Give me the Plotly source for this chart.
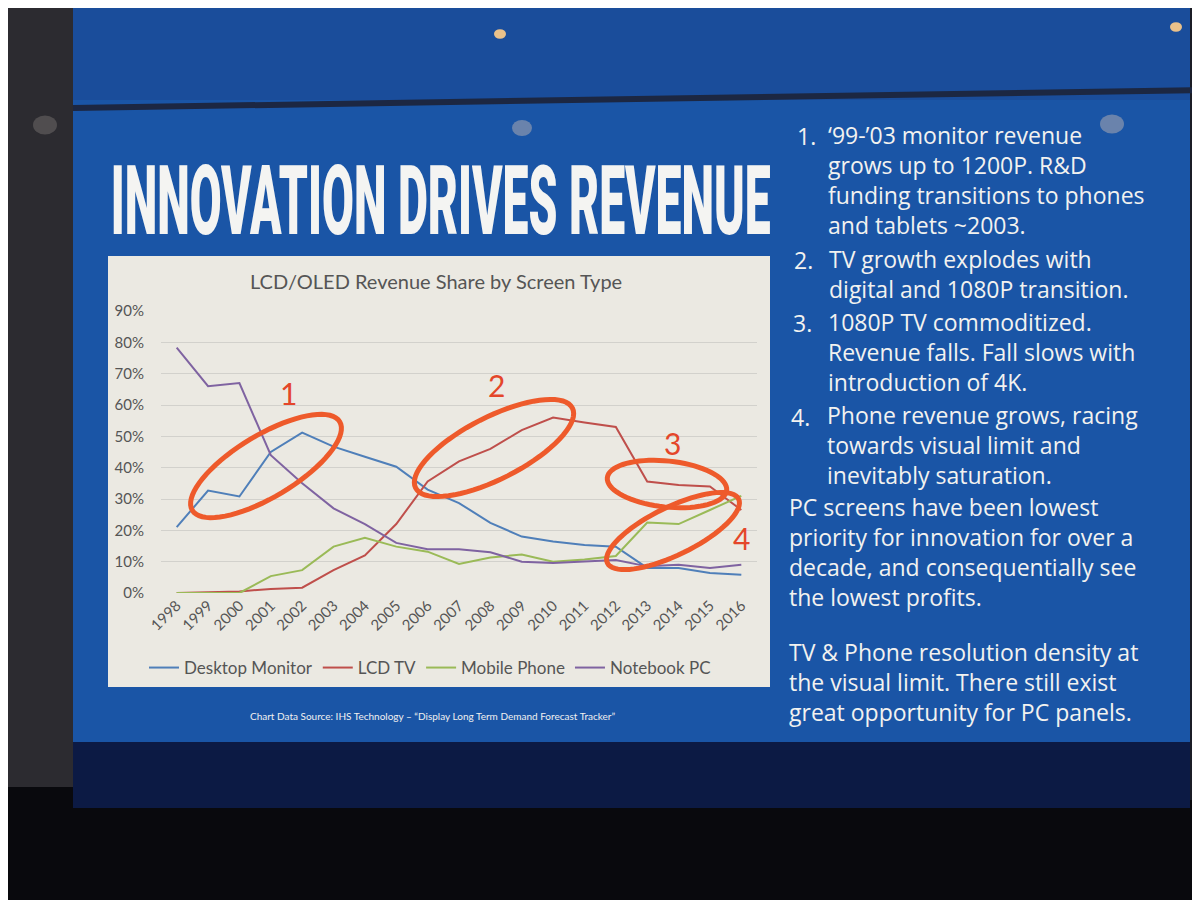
import math
import plotly.graph_objects as go

# --- data (share of LCD/OLED revenue, fraction) ---
years = [str(y) for y in range(1998, 2017)]
desktop_monitor = [0.21, 0.327, 0.308, 0.45, 0.512, 0.467, 0.435, 0.403, 0.33, 0.287,
                   0.224, 0.18, 0.164, 0.153, 0.148, 0.08, 0.08, 0.064, 0.058]
lcd_tv = [0.0, 0.002, 0.005, 0.013, 0.017, 0.073, 0.12, 0.22, 0.356, 0.42,
          0.46, 0.52, 0.56, 0.544, 0.53, 0.356, 0.345, 0.34, 0.265]
mobile_phone = [0.0, 0.0, 0.0, 0.054, 0.073, 0.148, 0.176, 0.148, 0.132, 0.093,
                0.113, 0.123, 0.10, 0.107, 0.118, 0.225, 0.22, 0.265, 0.31]
notebook_pc = [0.783, 0.66, 0.67, 0.44, 0.35, 0.27, 0.22, 0.16, 0.14, 0.14,
               0.13, 0.10, 0.096, 0.10, 0.105, 0.085, 0.09, 0.08, 0.09]

series_names = ["Desktop Monitor", "LCD TV", "Mobile Phone", "Notebook PC"]
series_colors = ["#4f7fb9", "#bf4f4b", "#9aba57", "#7f63a1"]
y_ticks = [i / 10 for i in range(10)]

# slide text on the right: (number, number x, text x, first line y, last line y, lines)
side_paragraphs = [
    ("1.", 795, 826, 136, 223, ["\u201899-\u201903 monitor revenue", "grows up to 1200P. R&D",
                                "funding transitions to phones", "and tablets ~2003."]),
    ("2.", 792, 827, 260, 288, ["TV growth explodes with", "digital and 1080P transition."]),
    ("3.", 791, 826, 323, 381, ["1080P TV commoditized.", "Revenue falls. Fall slows with",
                                "introduction of 4K."]),
    ("4.", 789, 825, 417, 472, ["Phone revenue grows, racing", "towards visual limit and",
                                "inevitably saturation."]),
    ("", 0, 787, 510, 594, ["PC screens have been lowest", "priority for innovation for over a",
                            "decade, and consequentially see", "the lowest profits."]),
    ("", 0, 787, 655, 709, ["TV & Phone resolution density at", "the visual limit. There still exist",
                            "great opportunity for PC panels."]),
]

W, H = 1200, 900
OFF = 8  # the page puts the figure 8px in from the window corner


def px(x):
    return (x - OFF) / W


def py(y):
    return 1 - (y - OFF) / H


def ellipse_path(cx, cy, a, b, deg, n=72):
    t = math.radians(deg)
    pts = []
    for i in range(n + 1):
        u = 2 * math.pi * i / n
        ex, ey = a * math.cos(u), b * math.sin(u)
        x = cx + ex * math.cos(t) + ey * math.sin(t)
        y = cy - ex * math.sin(t) + ey * math.cos(t)
        pts.append(f"{px(x):.5f},{py(y):.5f}")
    return "M " + " L ".join(pts) + " Z"


def rect(x0, y0, x1, y1, color, **kw):
    return dict(type="rect", xref="paper", yref="paper", x0=px(x0), x1=px(x1), y0=py(y0), y1=py(y1),
                fillcolor=color, line_width=0, layer="below", **kw)


fig = go.Figure()

for name, vals, col in zip(series_names, [desktop_monitor, lcd_tv, mobile_phone, notebook_pc], series_colors):
    fig.add_trace(go.Scatter(x=years, y=vals, mode="lines", name=name,
                             line=dict(color=col, width=2)))

shapes = [
    rect(-10, -10, 1210, 910, "#09090d"),
    rect(-10, -10, 73, 787, "#2c2b30"),
    rect(73, -10, 1190, 100, "#1a4d9b"),
    rect(73, 100, 1190, 742, "#1a55a6"),
    rect(73, 742, 1190, 808, "#0c1a44"),
    rect(1190, -10, 1210, 800, "#1b1d26"),
    dict(type="line", xref="paper", yref="paper", x0=px(73), x1=px(1210), y0=py(108), y1=py(90),
         line=dict(color="#1c2742", width=6), layer="below"),
    # chart box
    rect(108, 256, 770, 687, "#ebe9e2"),
]
# ceiling light reflections
for cx, cy, r, c, op in [(500, 34, 6, "#f6c789", 0.95), (1176, 27, 6, "#f6c789", 0.95),
                         (522, 128, 10, "#cdbdb4", 0.45), (1112, 124, 12, "#cdbdb4", 0.45),
                         (45, 125, 12, "#7d7875", 0.45)]:
    shapes.append(dict(type="circle", xref="paper", yref="paper", x0=px(cx - r), x1=px(cx + r),
                       y0=py(cy - r * 0.8), y1=py(cy + r * 0.8), fillcolor=c, opacity=op,
                       line_width=0, layer="below"))

# hand-drawn red ellipses
ring_color = "#ee5a2b"
for cx, cy, a, b, deg in [(266, 466, 86, 31, 31), (494, 448, 88, 31, 27),
                          (667, 484, 60, 23, -6), (673, 531, 73, 24, 26)]:
    shapes.append(dict(type="path", xref="paper", yref="paper", path=ellipse_path(cx, cy, a, b, deg),
                       line=dict(color=ring_color, width=5), layer="above"))

annotations = []
annotations.append(dict(xref="paper", yref="paper", x=px(440), y=py(201), text="INNOVATION DRIVES REVENUE",
                        showarrow=False, xanchor="center", yanchor="middle",
                        font=dict(family="Roboto, sans-serif", size=96, weight=900, color="#f4f4f2")))
annotations.append(dict(xref="paper", yref="paper", x=px(436), y=py(281), text="LCD/OLED Revenue Share by Screen Type",
                        showarrow=False, xanchor="center", yanchor="middle",
                        font=dict(family="Lato, sans-serif", size=20, color="#555555")))
annotations.append(dict(xref="paper", yref="paper", x=px(432), y=py(716),
                        text="Chart Data Source: IHS Technology \u2013 \u201cDisplay Long Term Demand Forecast Tracker\u201d",
                        showarrow=False, xanchor="center", yanchor="middle",
                        font=dict(family="Lato, sans-serif", size=10, color="#f0f0f0")))
for label, x, y in [("1", 288, 393), ("2", 497, 385), ("3", 672, 443), ("4", 741, 538)]:
    annotations.append(dict(xref="paper", yref="paper", x=px(x), y=py(y), text=label, showarrow=False,
                            xanchor="center", yanchor="middle",
                            font=dict(family="Lato, sans-serif", size=30, color="#e4462a")))

side_font = dict(family="Open Sans, Noto Sans, sans-serif", size=23, color="#f2f2f0")
for num, nx, tx, y_first, y_last, lines in side_paragraphs:
    if num:
        annotations.append(dict(xref="paper", yref="paper", x=px(nx), y=py(y_first), text=num,
                                showarrow=False, xanchor="left", yanchor="middle", font=side_font))
    annotations.append(dict(xref="paper", yref="paper", x=px(tx), y=py((y_first + y_last) / 2),
                            text="<br>".join(lines), showarrow=False, xanchor="left", yanchor="middle",
                            align="left", font=side_font))

fig.update_layout(
    width=W, height=H, autosize=False,
    margin=dict(l=0, r=0, t=0, b=0, pad=0, autoexpand=False),
    paper_bgcolor="#09090d",
    plot_bgcolor="rgba(0,0,0,0)",
    shapes=shapes,
    annotations=annotations,
    showlegend=True,
    legend=dict(orientation="h", x=px(430), xanchor="center", y=py(668), yanchor="middle",
                bgcolor="rgba(0,0,0,0)", font=dict(family="Lato, sans-serif", size=17, color="#555555"),
                itemwidth=30, traceorder="normal"),
    xaxis=dict(domain=[px(161), px(757)], range=[-0.5, 18.5], type="category", automargin=False,
               showgrid=False, zeroline=False, showline=False, ticks="", tickangle=-45,
               tickfont=dict(family="Lato, sans-serif", size=15, color="#555555")),
    yaxis=dict(domain=[py(593), py(311)], range=[0, 0.9], tickvals=y_ticks, tickformat=".0%",
               automargin=False, showgrid=True, gridcolor="#d2d1cc", gridwidth=1,
               zeroline=False, showline=False, ticks="", ticklabelstandoff=16,
               tickfont=dict(family="Lato, sans-serif", size=15, color="#555555")),
)

# squeeze the slide headline horizontally, like the condensed slide font
squeeze_title = """
document.querySelectorAll('.annotation-text').forEach(function (t) {
  if (t.textContent.indexOf('INNOVATION') === 0) {
    var w = t.getBBox().width;
    t.style.transformBox = 'fill-box';
    t.style.transformOrigin = 'center';
    t.style.transform = 'scaleX(' + (660 / w) + ')';
  }
});
"""

fig.write_html("out.html", post_script=squeeze_title)
